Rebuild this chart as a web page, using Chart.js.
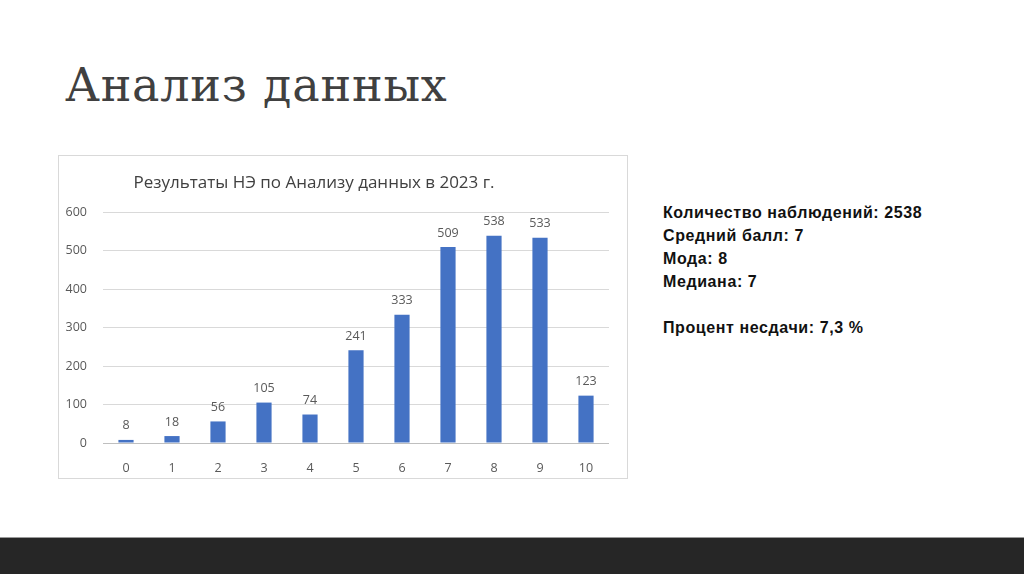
<!DOCTYPE html>
<html lang="ru">
<head>
<meta charset="utf-8">
<title>Анализ данных</title>
<script src="https://cdn.jsdelivr.net/npm/chart.js@4"></script>
<style>
  html, body { margin: 0; padding: 0; background: #fff; }
  body { width: 1024px; height: 574px; position: relative; overflow: hidden; }
  .slide-title {
    position: absolute; left: 65px; top: 57px; margin: 0;
    font-family: "DejaVu Serif", serif; font-weight: normal;
    font-size: 46px; line-height: 56px; letter-spacing: 0.8px; color: #404040;
  }
  .chart-box {
    position: absolute; left: 58px; top: 155px;
    width: 568px; height: 322px; border: 1px solid #d9d9d9;
  }
  .stats {
    position: absolute; left: 663px; top: 201px;
    font-family: "Liberation Sans", Arial, sans-serif; font-weight: bold;
    font-size: 16px; line-height: 23px; letter-spacing: 0.6px; color: #111;
  }
  .footer {
    position: absolute; left: 0; top: 537px; width: 1024px; height: 37px;
    background: #262626; border-top: 1px solid #9a9a9a;
  }
</style>
</head>
<body>
<h1 class="slide-title">Анализ данных</h1>

<div class="chart-box"><canvas id="scores-chart"></canvas></div>

<div class="stats">
  Количество наблюдений: 2538<br>
  Средний балл: 7<br>
  Мода: 8<br>
  Медиана: 7<br>
  <br>
  Процент несдачи: 7,3 %
</div>

<div class="footer"></div>

<script>
// ─── Data ─────────────────────────────────────────────────────────────────────

const CHART_TITLE = "Результаты НЭ по Анализу данных в 2023 г.";
const scores = ["0", "1", "2", "3", "4", "5", "6", "7", "8", "9", "10"];
const counts = [8, 18, 56, 105, 74, 241, 333, 509, 538, 533, 123];
const yTicks = [0, 100, 200, 300, 400, 500, 600];

const BAR_COLOR = "#4472C4";
const TEXT_COLOR = "#595959";

// ─── Plugins ──────────────────────────────────────────────────────────────────

// draws the chart title and the value above each bar
const labelsPlugin = {
  id: "barLabels",
  afterDatasetsDraw(chart) {
    const { ctx } = chart;
    ctx.save();
    ctx.fillStyle = "#404040";
    ctx.font = '17px "Open Sans", sans-serif';
    ctx.textAlign = "center";
    ctx.textBaseline = "middle";
    ctx.fillText(CHART_TITLE, 255, 27);

    ctx.font = '12.5px "Open Sans", sans-serif';
    ctx.fillStyle = TEXT_COLOR;
    const meta = chart.getDatasetMeta(0);
    meta.data.forEach((bar, i) => {
      ctx.fillText(String(counts[i]), bar.x, bar.y - 14);
    });
    ctx.restore();
  },
};

// ─── Chart ────────────────────────────────────────────────────────────────────

new Chart(document.getElementById("scores-chart"), {
  type: "bar",
  data: {
    labels: scores,
    datasets: [
      {
        data: counts,
        backgroundColor: BAR_COLOR,
        borderWidth: 0,
        barPercentage: 0.33,
        categoryPercentage: 1,
      },
    ],
  },
  options: {
    responsive: true,
    maintainAspectRatio: false,
    animation: false,
    layout: { padding: { top: 56, right: 18, left: 0, bottom: 0 } },
    plugins: {
      legend: { display: false },
      tooltip: { enabled: false },
    },
    scales: {
      y: {
        min: 0,
        max: 600,
        afterFit: (scale) => { scale.width = 44; },
        afterBuildTicks: (scale) => { scale.ticks = yTicks.map((v) => ({ value: v })); },
        border: { display: false },
        grid: {
          color: (c) => (c.tick && c.tick.value === 0 ? "#bfbfbf" : "#d9d9d9"),
          drawTicks: false,
        },
        ticks: {
          padding: 16,
          color: TEXT_COLOR,
          font: { family: "Open Sans", size: 12.5 },
        },
      },
      x: {
        afterFit: (scale) => { scale.height = 35; },
        border: { display: false },
        grid: { display: false },
        ticks: {
          padding: 10,
          color: TEXT_COLOR,
          font: { family: "Open Sans", size: 12.5 },
        },
      },
    },
  },
  plugins: [labelsPlugin],
});
</script>
</body>
</html>
